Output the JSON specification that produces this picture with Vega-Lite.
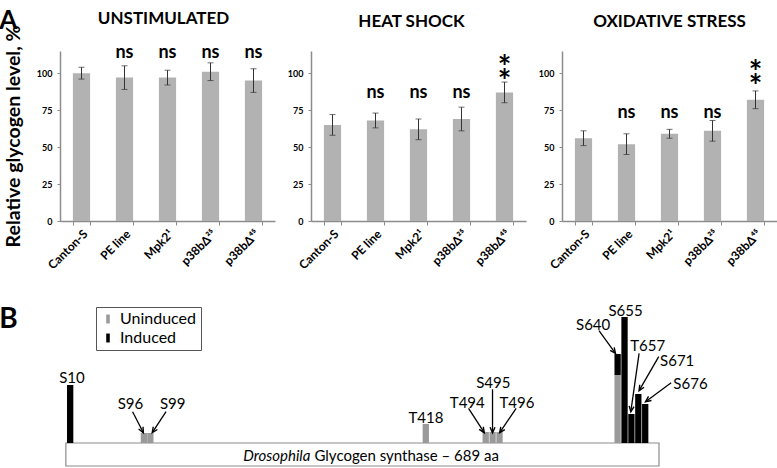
{
  "$schema": "https://vega.github.io/schema/vega-lite/v6.json",
  "autosize": {"type": "none"},
  "padding": {"left": 60, "top": 51, "right": 717, "bottom": 417},
  "background": "white",
  "bounds": "flush",
  "spacing": 249,
  "title": {"text": "A", "anchor": "start", "frame": "bounds", "fontSize": 26, "fontWeight": "bold", "offset": 0, "dy": 24, "dx": 0},
  "config": {
    "font": "Lato",
    "view": {"stroke": null},
    "title": {"fontSize": 17, "fontWeight": "bold", "color": "#000000", "font": "Lato"},
    "axis": {"domainColor": "#8c8c8c", "tickColor": "#8c8c8c", "grid": false, "labelColor": "#000000", "titleColor": "#000000", "labelFont": "Lato", "titleFont": "Lato"},
    "axisY": {"tickSize": 3, "domainWidth": 1.5, "labelFontSize": 9, "labelFontWeight": "bold", "labelPadding": 5, "titleFontSize": 19.5, "titleFontWeight": "bold", "titlePadding": 13},
    "axisX": {"tickBand": "extent", "tickSize": 4, "domainWidth": 1.5, "labelAngle": -45, "labelFontSize": 12, "labelFontWeight": "bold", "labelPadding": 3}
  },
  "datasets": {
    "glycogen": [
      {"condition": "Unstimulated", "genotype": "Canton-S", "mean": 100, "lo": 96, "hi": 104, "sig": ""},
      {"condition": "Unstimulated", "genotype": "PE line", "mean": 97, "lo": 89, "hi": 105, "sig": "ns"},
      {"condition": "Unstimulated", "genotype": "Mpk2¹", "mean": 97, "lo": 92, "hi": 102, "sig": "ns"},
      {"condition": "Unstimulated", "genotype": "p38bΔ²⁵", "mean": 101, "lo": 95, "hi": 107, "sig": "ns"},
      {"condition": "Unstimulated", "genotype": "p38bΔ⁴⁵", "mean": 95, "lo": 87, "hi": 103, "sig": "ns"},
      {"condition": "Heat shock", "genotype": "Canton-S", "mean": 65, "lo": 58, "hi": 72, "sig": ""},
      {"condition": "Heat shock", "genotype": "PE line", "mean": 68, "lo": 63, "hi": 73, "sig": "ns"},
      {"condition": "Heat shock", "genotype": "Mpk2¹", "mean": 62, "lo": 55, "hi": 69, "sig": "ns"},
      {"condition": "Heat shock", "genotype": "p38bΔ²⁵", "mean": 69, "lo": 61, "hi": 77, "sig": "ns"},
      {"condition": "Heat shock", "genotype": "p38bΔ⁴⁵", "mean": 87, "lo": 80, "hi": 94, "sig": "**"},
      {"condition": "Oxidative stress", "genotype": "Canton-S", "mean": 56, "lo": 51, "hi": 61, "sig": ""},
      {"condition": "Oxidative stress", "genotype": "PE line", "mean": 52, "lo": 45, "hi": 59, "sig": "ns"},
      {"condition": "Oxidative stress", "genotype": "Mpk2¹", "mean": 59, "lo": 56, "hi": 62, "sig": "ns"},
      {"condition": "Oxidative stress", "genotype": "p38bΔ²⁵", "mean": 61, "lo": 54, "hi": 68, "sig": "ns"},
      {"condition": "Oxidative stress", "genotype": "p38bΔ⁴⁵", "mean": 82, "lo": 76, "hi": 88, "sig": "**"}
    ],
    "sites": [
      {"site": "S10", "residue": 10, "pos": 6, "status": "Induced", "count": 5.8},
      {"site": "S96", "residue": 96, "pos": 91.5, "status": "Uninduced", "count": 1.0},
      {"site": "S99", "residue": 99, "pos": 99, "status": "Uninduced", "count": 1.0},
      {"site": "T418", "residue": 418, "pos": 418.5, "status": "Uninduced", "count": 1.9},
      {"site": "T494", "residue": 494, "pos": 488, "status": "Uninduced", "count": 1.1},
      {"site": "S495", "residue": 495, "pos": 496, "status": "Uninduced", "count": 1.1},
      {"site": "T496", "residue": 496, "pos": 504, "status": "Uninduced", "count": 1.1},
      {"site": "S640", "residue": 640, "pos": 641, "status": "Uninduced", "count": 6.8},
      {"site": "S640", "residue": 640, "pos": 641, "status": "Induced", "count": 2.1},
      {"site": "S655", "residue": 655, "pos": 649, "status": "Induced", "count": 12.6},
      {"site": "T657", "residue": 657, "pos": 657, "status": "Induced", "count": 2.9},
      {"site": "S671", "residue": 671, "pos": 665, "status": "Induced", "count": 4.9},
      {"site": "S676", "residue": 676, "pos": 673, "status": "Induced", "count": 3.9}
    ],
    "labels": [
      {"site": "S10", "lx": 8, "ly": 6.5},
      {"site": "S96", "lx": 75.9, "ly": 3.9},
      {"site": "S99", "lx": 124.9, "ly": 3.9},
      {"site": "T418", "lx": 418.7, "ly": 2.55},
      {"site": "T494", "lx": 466.6, "ly": 4.05},
      {"site": "S495", "lx": 496.8, "ly": 6.05},
      {"site": "T496", "lx": 524.2, "ly": 4.05},
      {"site": "S640", "lx": 612.6, "ly": 11.85},
      {"site": "S655", "lx": 650.2, "ly": 13.2},
      {"site": "T657", "lx": 675.9, "ly": 9.7},
      {"site": "S671", "lx": 710.1, "ly": 8.2},
      {"site": "S676", "lx": 725.5, "ly": 5.9}
    ],
    "arrows": [
      {"site": "S96", "ax": 78.4, "ay": 3.13, "bx": 90.9, "by": 1.03},
      {"site": "S99", "ax": 117.2, "ay": 3.13, "bx": 101.2, "by": 1.03},
      {"site": "T494", "ax": 468.1, "ay": 3.47, "bx": 486.3, "by": 1.03},
      {"site": "S495", "ax": 495.9, "ay": 5.37, "bx": 495.9, "by": 1.03},
      {"site": "T496", "ax": 523.3, "ay": 3.47, "bx": 504.2, "by": 1.03},
      {"site": "S640", "ax": 619.4, "ay": 11.23, "bx": 638.5, "by": 8.97},
      {"site": "T657", "ax": 665.9, "ay": 8.97, "bx": 656.3, "by": 3.13},
      {"site": "S671", "ax": 688.7, "ay": 8.63, "bx": 665.9, "by": 5.23},
      {"site": "S676", "ax": 703.1, "ay": 6.03, "bx": 673.4, "by": 4.13}
    ],
    "protein": [
      {"genus": "Drosophila", "desc": "Glycogen synthase – 689 aa", "first": 1, "length": 689}
    ]
  },
  "vconcat": [
    {
      "bounds": "flush",
      "spacing": 36,
      "hconcat": [
        {
          "width": 215, "height": 170,
          "title": {"text": "UNSTIMULATED", "offset": -3, "frame": "group", "dx": -4},
          "data": {"name": "glycogen"},
          "transform": [{"filter": "datum.condition === 'Unstimulated'"}],
          "encoding": {"x": {"field": "genotype", "type": "nominal", "sort": null, "title": null, "scale": {"paddingInner": 0.6, "paddingOuter": 0.3}}},
          "layer": [
            {"mark": {"type": "bar", "color": "#b2b2b2"}, "encoding": {"y": {"field": "mean", "type": "quantitative", "scale": {"domain": [0, 115], "nice": false}, "axis": {"values": [0, 25, 50, 75, 100], "title": "Relative glycogen level, %"}}}},
            {"mark": {"type": "errorbar", "color": "#333333", "ticks": {"size": 6}}, "encoding": {"y": {"field": "lo", "type": "quantitative", "title": "Relative glycogen level, %"}, "y2": {"field": "hi"}}},
            {"transform": [{"filter": "datum.sig === 'ns'"}], "mark": {"type": "text", "fontSize": 18, "fontWeight": "bold", "baseline": "middle"}, "encoding": {"y": {"datum": 113.5, "type": "quantitative"}, "text": {"field": "sig", "type": "nominal"}}}
          ]
        },
        {
          "width": 215, "height": 170,
          "title": {"text": "HEAT SHOCK", "offset": 20, "frame": "group", "dx": -7},
          "data": {"name": "glycogen"},
          "transform": [{"filter": "datum.condition === 'Heat shock'"}, {"calculate": "split(datum.sig, '')", "as": "stars"}],
          "encoding": {"x": {"field": "genotype", "type": "nominal", "sort": null, "title": null, "scale": {"paddingInner": 0.6, "paddingOuter": 0.3}}},
          "layer": [
            {"mark": {"type": "bar", "color": "#b2b2b2"}, "encoding": {"y": {"field": "mean", "type": "quantitative", "scale": {"domain": [0, 115], "nice": false}, "axis": {"values": [0, 25, 50, 75, 100], "title": null}}}},
            {"mark": {"type": "errorbar", "color": "#333333", "ticks": {"size": 6}}, "encoding": {"y": {"field": "lo", "type": "quantitative", "title": null}, "y2": {"field": "hi"}}},
            {"transform": [{"filter": "datum.sig === 'ns'"}], "mark": {"type": "text", "fontSize": 18, "fontWeight": "bold", "baseline": "middle"}, "encoding": {"y": {"datum": 86.5, "type": "quantitative"}, "text": {"field": "sig", "type": "nominal"}}},
            {"transform": [{"filter": "datum.sig === '**'"}], "mark": {"type": "text", "fontSize": 32, "fontWeight": "bold", "baseline": "alphabetic", "lineHeight": 13.5}, "encoding": {"y": {"datum": 96, "type": "quantitative"}, "text": {"field": "stars", "type": "nominal"}}}
          ]
        },
        {
          "width": 215, "height": 170,
          "title": {"text": "OXIDATIVE STRESS", "offset": 20, "frame": "group"},
          "data": {"name": "glycogen"},
          "transform": [{"filter": "datum.condition === 'Oxidative stress'"}, {"calculate": "split(datum.sig, '')", "as": "stars"}],
          "encoding": {"x": {"field": "genotype", "type": "nominal", "sort": null, "title": null, "scale": {"paddingInner": 0.6, "paddingOuter": 0.3}}},
          "layer": [
            {"mark": {"type": "bar", "color": "#b2b2b2"}, "encoding": {"y": {"field": "mean", "type": "quantitative", "scale": {"domain": [0, 115], "nice": false}, "axis": {"values": [0, 25, 50, 75, 100], "title": null}}}},
            {"mark": {"type": "errorbar", "color": "#333333", "ticks": {"size": 6}}, "encoding": {"y": {"field": "lo", "type": "quantitative", "title": null}, "y2": {"field": "hi"}}},
            {"transform": [{"filter": "datum.sig === 'ns'"}], "mark": {"type": "text", "fontSize": 18, "fontWeight": "bold", "baseline": "middle"}, "encoding": {"y": {"datum": 73, "type": "quantitative"}, "text": {"field": "sig", "type": "nominal"}}},
            {"transform": [{"filter": "datum.sig === '**'"}], "mark": {"type": "text", "fontSize": 32, "fontWeight": "bold", "baseline": "alphabetic", "lineHeight": 13.5}, "encoding": {"y": {"datum": 92.5, "type": "quantitative"}, "text": {"field": "stars", "type": "nominal"}}}
          ]
        }
      ]
    },
    {
      "width": 604, "height": 168,
      "title": {"text": "B", "anchor": "start", "frame": "bounds", "fontSize": 28, "fontWeight": "bold", "offset": 0, "dx": -60, "dy": 34},
      "layer": [
        {
          "data": {"name": "protein"},
          "mark": {"type": "rect", "fill": "white", "stroke": "#8c8c8c", "strokeWidth": 1.2},
          "encoding": {
            "x": {"field": "first", "type": "quantitative", "scale": {"domain": [0, 689], "nice": false, "zero": false}, "axis": null},
            "x2": {"field": "length"},
            "y": {"datum": -2.3, "type": "quantitative", "scale": {"domain": [-2.5, 14.3], "nice": false, "zero": false}, "axis": null},
            "y2": {"datum": 0}
          }
        },
        {
          "data": {"name": "protein"},
          "mark": {"type": "text", "fontSize": 15, "fontStyle": "italic", "align": "right", "baseline": "middle", "dx": -2},
          "encoding": {"x": {"datum": 287, "type": "quantitative"}, "y": {"datum": -1.25, "type": "quantitative"}, "text": {"field": "genus", "type": "nominal"}}
        },
        {
          "data": {"name": "protein"},
          "mark": {"type": "text", "fontSize": 15, "align": "left", "baseline": "middle", "dx": 2},
          "encoding": {"x": {"datum": 287, "type": "quantitative"}, "y": {"datum": -1.25, "type": "quantitative"}, "text": {"field": "desc", "type": "nominal"}}
        },
        {
          "data": {"name": "sites"},
          "mark": {"type": "bar", "orient": "vertical", "size": 6.3},
          "encoding": {
            "x": {"field": "pos", "type": "quantitative"},
            "y": {"field": "count", "type": "quantitative", "stack": "zero"},
            "color": {"field": "status", "type": "nominal", "scale": {"domain": ["Uninduced", "Induced"], "range": ["#9a9a9a", "#000000"]},
              "legend": {"title": null, "orient": "none", "legendX": 36, "legendY": 256, "strokeColor": "#555555", "fillColor": "white", "padding": 4, "labelFontSize": 16, "labelFont": "Lato", "labelColor": "#000000", "symbolType": "M-0.4,-1H0.4V1H-0.4Z", "symbolSize": 80, "symbolStrokeWidth": 0, "rowPadding": 3, "labelOffset": 4}},
            "order": {"field": "status", "type": "nominal", "sort": "descending"}
          }
        },
        {
          "data": {"name": "labels"},
          "mark": {"type": "text", "fontSize": 15, "baseline": "middle", "align": "center"},
          "encoding": {"x": {"field": "lx", "type": "quantitative"}, "y": {"field": "ly", "type": "quantitative"}, "text": {"field": "site", "type": "nominal"}}
        },
        {
          "data": {"name": "arrows"},
          "mark": {"type": "rule", "color": "#000000", "strokeWidth": 1.3},
          "encoding": {"x": {"field": "ax", "type": "quantitative"}, "y": {"field": "ay", "type": "quantitative"}, "x2": {"field": "bx"}, "y2": {"field": "by"}}
        },
        {
          "data": {"name": "arrows"},
          "transform": [{"calculate": "atan2((datum.bx - datum.ax) * 0.8766, (datum.by - datum.ay) * 10) * 180 / PI", "as": "heading"}],
          "mark": {"type": "point", "shape": "M-0.45,1L0,0L0.45,1", "filled": false, "size": 121, "strokeWidth": 1.4, "color": "#000000", "opacity": 1},
          "encoding": {"x": {"field": "bx", "type": "quantitative"}, "y": {"field": "by", "type": "quantitative"}, "angle": {"field": "heading", "type": "quantitative", "scale": null}}
        }
      ]
    }
  ]
}
